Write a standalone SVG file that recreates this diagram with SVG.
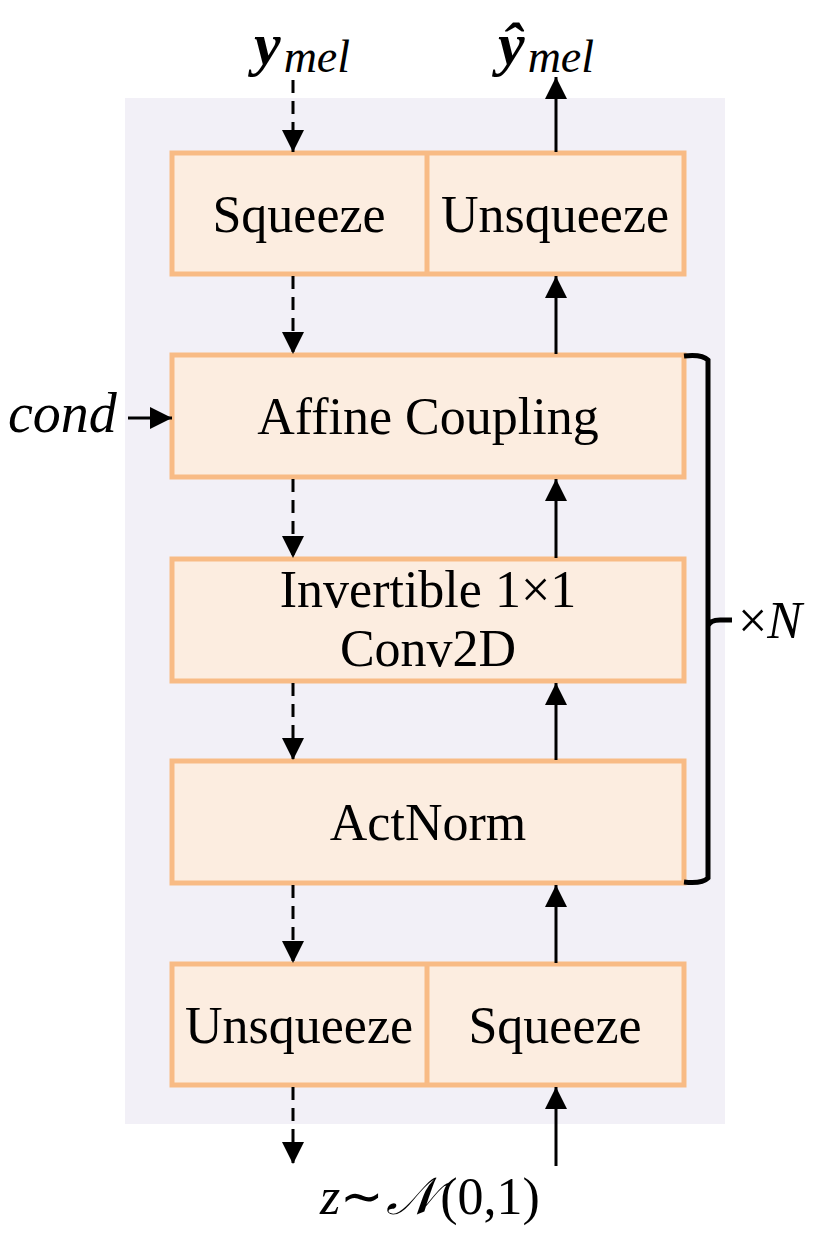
<svg xmlns="http://www.w3.org/2000/svg" width="813" height="1255" viewBox="0 0 813 1255">
<style>
.box{fill:#fcede0;stroke:#f8bb85;stroke-width:5}
.div{stroke:#f8bb85;stroke-width:5}
.t{font-family:"Liberation Serif","Times New Roman",serif;font-size:52px;fill:#000;text-anchor:middle}
.m{font-family:"Liberation Serif","Times New Roman",serif;font-style:italic;fill:#000}
.ln{stroke:#000;stroke-width:3;fill:none}
.br{stroke:#000;stroke-width:5;fill:none}
.dash{stroke-dasharray:13 8}
</style>
<defs>
<marker id="ah" viewBox="0 0 10 10" refX="10" refY="5" markerWidth="22" markerHeight="22" markerUnits="userSpaceOnUse" orient="auto">
<path d="M0,0 L10,5 L0,10 z" fill="#000"/>
</marker>
</defs>
<rect x="125" y="98" width="600" height="1026" fill="#f2f0f7"/>

<g id="top">
<rect class="box" x="172" y="153" width="512" height="121"/>
<line class="div" x1="427" y1="153" x2="427" y2="274"/>
<text class="t" x="299" y="232">Squeeze</text>
<text class="t" x="555" y="232">Unsqueeze</text>
</g>
<g id="affine">
<rect class="box" x="172" y="355" width="512" height="122"/>
<text class="t" x="428" y="434">Affine Coupling</text>
</g>
<g id="invconv">
<rect class="box" x="172" y="559" width="512" height="122"/>
<text class="t" x="428" y="607">Invertible 1×1</text>
<text class="t" x="428" y="666">Conv2D</text>
</g>
<g id="actnorm">
<rect class="box" x="172" y="761" width="512" height="122"/>
<text class="t" x="428" y="840">ActNorm</text>
</g>
<g id="bottom">
<rect class="box" x="172" y="964" width="512" height="121"/>
<line class="div" x1="427" y1="964" x2="427" y2="1085"/>
<text class="t" x="299" y="1043">Unsqueeze</text>
<text class="t" x="555" y="1043">Squeeze</text>
</g>

<g id="labels">
<text class="m" x="254" y="64" font-size="60" font-weight="bold">y<tspan font-size="46" font-weight="normal" dx="3" dy="8">mel</tspan></text>
<text class="m" x="498" y="64" font-size="60" font-weight="bold">ŷ<tspan font-size="46" font-weight="normal" dx="3" dy="8">mel</tspan></text>
<text class="m" x="8" y="432" font-size="56">cond</text>
<text x="738" y="638" font-size="52" font-family="Liberation Serif,serif">×<tspan class="m">N</tspan></text>
<text x="320" y="1214" font-size="52" font-family="Liberation Serif,serif"><tspan class="m">z</tspan><tspan font-weight="normal">∼</tspan><tspan class="m" dx="2">𝒩</tspan><tspan dx="4">(0,1)</tspan></text>
</g>

<g id="connectors">
<line class="ln dash" x1="293" y1="80" x2="293" y2="152" marker-end="url(#ah)"/>
<line class="ln" x1="556" y1="152" x2="556" y2="77" marker-end="url(#ah)"/>
<line class="ln dash" x1="293" y1="276" x2="293" y2="354" marker-end="url(#ah)"/>
<line class="ln" x1="556" y1="354" x2="556" y2="276" marker-end="url(#ah)"/>
<line class="ln dash" x1="293" y1="479" x2="293" y2="558" marker-end="url(#ah)"/>
<line class="ln" x1="556" y1="558" x2="556" y2="479" marker-end="url(#ah)"/>
<line class="ln dash" x1="293" y1="683" x2="293" y2="760" marker-end="url(#ah)"/>
<line class="ln" x1="556" y1="760" x2="556" y2="683" marker-end="url(#ah)"/>
<line class="ln dash" x1="293" y1="885" x2="293" y2="963" marker-end="url(#ah)"/>
<line class="ln" x1="556" y1="963" x2="556" y2="885" marker-end="url(#ah)"/>
<line class="ln dash" x1="293" y1="1087" x2="293" y2="1164" marker-end="url(#ah)"/>
<line class="ln" x1="556" y1="1166" x2="556" y2="1087" marker-end="url(#ah)"/>
<line class="ln" x1="128" y1="418" x2="172" y2="418" marker-end="url(#ah)"/>
<path class="br" d="M684,356 Q702,354 708,360 L708,878 Q702,884 684,882 M708,626 Q710,620 720,620 L732,620"/>
</g>
</svg>
